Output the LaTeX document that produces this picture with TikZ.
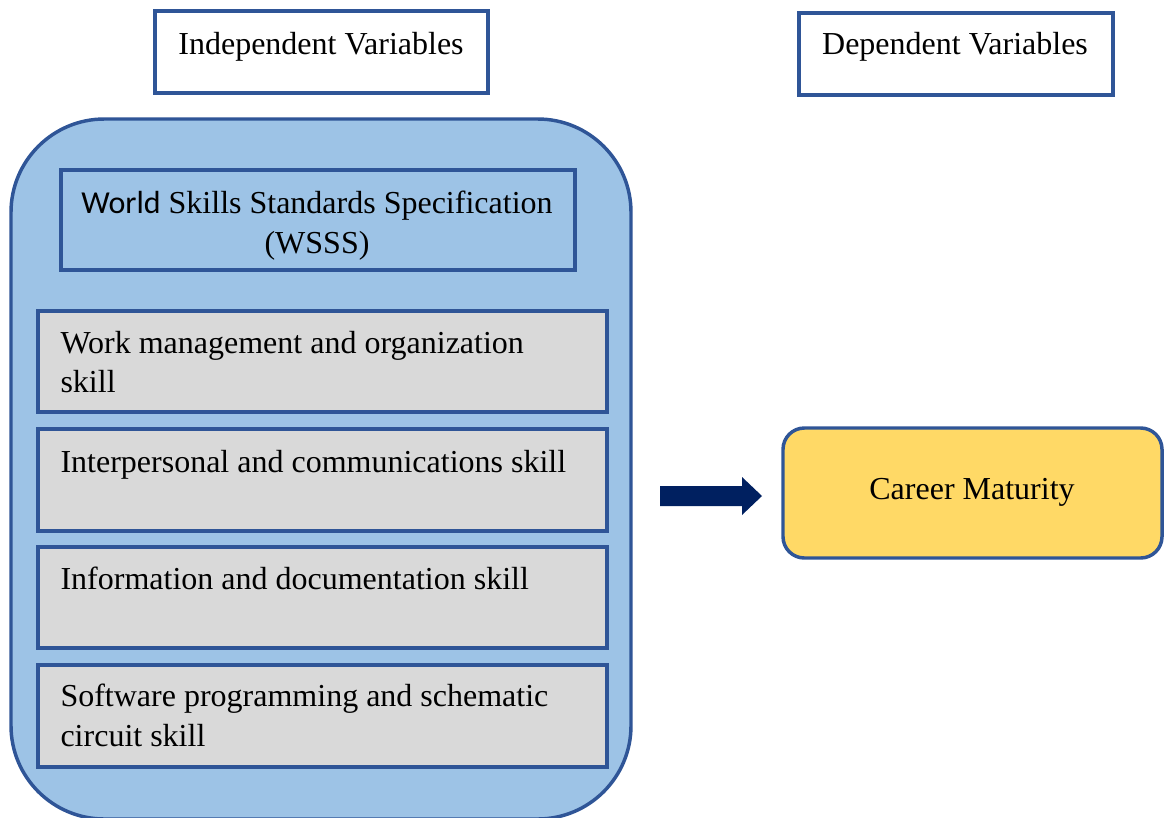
\documentclass[tikz,border=0pt]{standalone}
\usepackage{fontspec}
\setmainfont{Liberation Serif}
\newfontfamily\sansw{Carlito}
\usetikzlibrary{calc}
\definecolor{frameblue}{HTML}{2F5597}
\definecolor{panelblue}{HTML}{9DC3E6}
\definecolor{skillgray}{HTML}{D9D9D9}
\definecolor{outcomeyellow}{HTML}{FFD966}
\definecolor{arrownavy}{HTML}{002060}
\begin{document}
\begin{tikzpicture}[x=0.375pt,y=-0.375pt,
  sized/.style 2 args={minimum width=#1*0.375pt, minimum height=#2*0.375pt,
    anchor=north west, inner sep=0pt, outer sep=0pt},
  frame/.style={draw=frameblue, line width=1.3pt},
  headbox/.style={frame, fill=white},
  skillbox/.style={frame, fill=skillgray},
  label/.style={inner sep=0pt, font=\fontsize{12}{15}\selectfont},
]
\useasboundingbox (0,0) rectangle (1165,817);

% headings
\node[headbox, sized={333}{82}] (indep) at (155,11) {};
\node[label, anchor=base] (indeplabel) at (321,54) {Independent Variables};
\node[headbox, sized={314}{82}] (dep) at (799,13) {};
\node[label, anchor=base] (deplabel) at (955,54) {Dependent Variables};

% independent variables panel
\node[frame, fill=panelblue, rounded corners=35pt, sized={620}{700}] (panel) at (11,119) {};
\node[frame, fill=panelblue, sized={514}{100}] (wsss) at (61,170) {};
\node[label, anchor=base] (wsssA) at (317,213) {{\sansw World} Skills Standards Specification};
\node[label, anchor=base] (wsssB) at (317,253) {(WSSS)};

% skill boxes
\node[skillbox, sized={569}{101}] (g1) at (38,311) {};
\node[label, anchor=base west] (g1a) at (60,353) {Work management and organization};
\node[label, anchor=base west] (g1b) at (60,392) {skill};
\node[skillbox, sized={569}{102}] (g2) at (38,429) {};
\node[label, anchor=base west] (g2a) at (60,472) {Interpersonal and communications skill};
\node[skillbox, sized={569}{101}] (g3) at (38,547) {};
\node[label, anchor=base west] (g3a) at (60,589) {Information and documentation skill};
\node[skillbox, sized={569}{102}] (g4) at (38,665) {};
\node[label, anchor=base west] (g4a) at (60,706) {Software programming and schematic};
\node[label, anchor=base west] (g4b) at (60,746) {circuit skill};

% dependent variable
\node[frame, fill=outcomeyellow, rounded corners=8pt, sized={379}{130}] (career) at (783,428) {};
\node[label, anchor=base] (careerlabel) at (972,499) {Career Maturity};

% block arrow between the panels
\coordinate (arrowtail) at (660,496);
\coordinate (arrowtip) at (762,496);
\fill[arrownavy] ($(arrowtail)+(0,-10)$) -- ($(arrowtip)+(-20,-10)$) -- ($(arrowtip)+(-20,-19)$)
  -- (arrowtip) -- ($(arrowtip)+(-20,19)$) -- ($(arrowtip)+(-20,10)$) -- ($(arrowtail)+(0,10)$) -- cycle;
\end{tikzpicture}
\end{document}
